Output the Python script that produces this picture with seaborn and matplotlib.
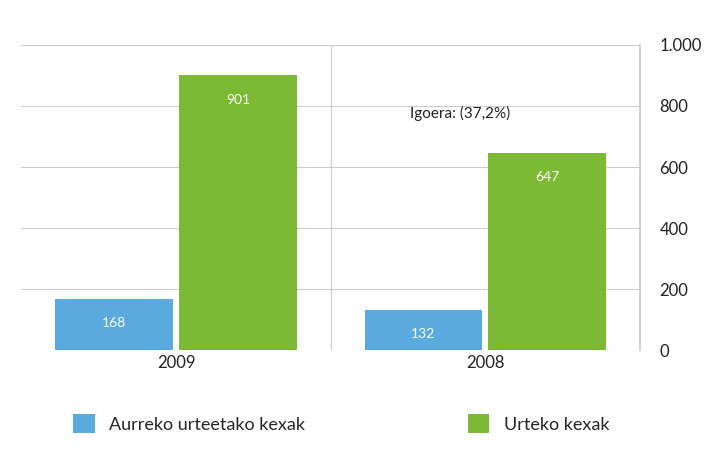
import pandas as pd
import seaborn as sns
import matplotlib.pyplot as plt

years = ["2009", "2008"]
series = ["Aurreko urteetako kexak", "Urteko kexak"]
previous = [168, 132]
current = [901, 647]
yticks = [0, 200, 400, 600, 800, 1000]
ytick_labels = ["0", "200", "400", "600", "800", "1.000"]
note = "Igoera: (37,2%)"

colors = ["#5AAAE0", "#7CB934"]

df = pd.DataFrame({
    "year": years * 2,
    "type": [series[0]] * 2 + [series[1]] * 2,
    "value": previous + current,
})

sns.set_theme(style="white")
plt.rcParams["font.family"] = ["Lato", "DejaVu Sans"]

fig = plt.figure(figsize=(7.11, 4.49), dpi=100)
ax = fig.add_axes([0.03, 0.22, 0.87, 0.68])

sns.barplot(data=df, x="year", y="value", hue="type", palette=colors,
            order=years, hue_order=series, width=0.8, gap=0.05,
            saturation=1, edgecolor="none", ax=ax)

ax.set_ylim(0, 1000)
ax.set_xlim(-0.5, 1.5)
ax.set_yticks(yticks)
ax.set_yticklabels(ytick_labels, fontsize=12, color="#222222")
ax.yaxis.tick_right()
ax.tick_params(axis="y", length=0, pad=14)
ax.tick_params(axis="x", length=0, labelsize=12, colors="#222222")
ax.grid(axis="y", color="#cccccc", linewidth=0.8)
ax.set_axisbelow(True)
ax.axvline(0.5, color="#cccccc", linewidth=0.8, zorder=0)
for side in ["top", "left", "bottom"]:
    ax.spines[side].set_visible(False)
ax.spines["right"].set_color("#cccccc")
ax.set_xlabel("")
ax.set_ylabel("")

for cont in ax.containers:
    ax.bar_label(cont, labels=[str(int(v)) for v in cont.datavalues],
                 padding=-22, color="white", fontsize=10)

ax.text(0.92, 760, note, fontsize=11, color="#222222", ha="center")

handles, labels = ax.get_legend_handles_labels()
ax.legend_.remove()
fig.legend(handles, labels, loc="lower center", ncol=2, frameon=False,
           fontsize=13, handlelength=1.2, handleheight=1.2,
           columnspacing=9, bbox_to_anchor=(0.48, 0.0))

fig.savefig("out.png", dpi=100, facecolor="white")
